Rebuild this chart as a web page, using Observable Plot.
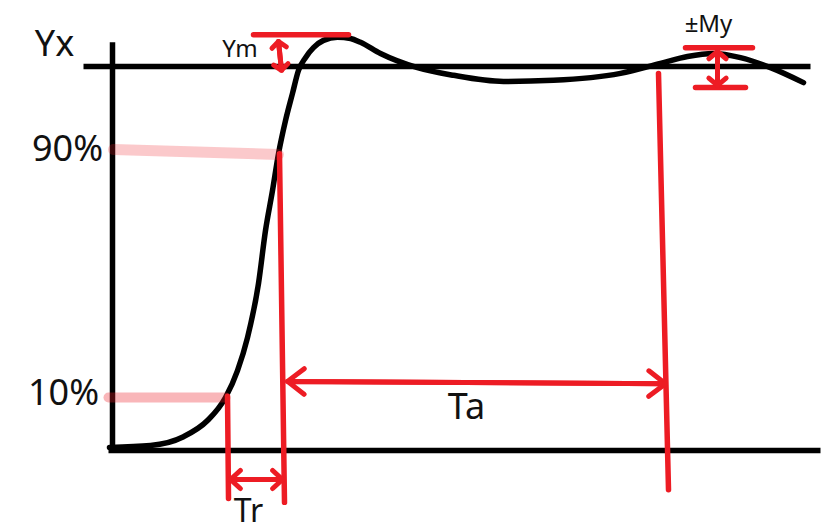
<!DOCTYPE html>
<html>
<head>
<meta charset="utf-8">
<script src="https://cdn.jsdelivr.net/npm/d3@7"></script>
<script src="https://cdn.jsdelivr.net/npm/@observablehq/plot@0.6"></script>
<style>
  html, body { margin: 0; padding: 0; background: #fff; }
  #chart svg { display: block; }
</style>
</head>
<body>
<div id="chart"></div>
<script>
// Step response (time t, normalized output y; y = 1 is the set value Yx)
const curveT = [-0.03, 0.38, 0.71, 0.95, 1.13, 1.25, 1.35, 1.46, 1.53, 1.60, 1.66, 1.73, 1.80, 1.86, 1.93, 2.01, 2.11, 2.25, 2.38, 2.48, 2.68, 3.05, 3.41, 3.91, 4.41, 5.08, 5.48, 5.75, 6.01, 6.28, 6.58, 6.91];
const curveY = [0.008, 0.013, 0.036, 0.078, 0.138, 0.208, 0.294, 0.435, 0.573, 0.677, 0.773, 0.859, 0.930, 0.990, 1.023, 1.049, 1.068, 1.076, 1.073, 1.063, 1.034, 0.997, 0.977, 0.961, 0.964, 0.982, 1.008, 1.026, 1.034, 1.023, 0.997, 0.958];

// Axes and set-value line (black)
const axisX1 = [0, -0.04, -0.29];
const axisY1 = [-0.005, 0, 1];
const axisX2 = [0, 7.08, 6.98];
const axisY2 = [1.063, 0, 1];

// Pale 90% / 10% guides
const guide90 = [{x1: 0.01, y1: 0.784, x2: 1.66, y2: 0.771}];
const guide10 = [{x1: -0.04, y1: 0.138, x2: 1.13, y2: 0.138}];

// Red markers: vertical time marks and overshoot bars
const redX1 = [1.67, 1.15, 5.46, 1.41, 5.73, 5.83];
const redY1 = [0.773, 0.141, 0.982, 1.083, 1.049, 0.945];
const redX2 = [1.72, 1.16, 5.56, 2.36, 6.40, 6.33];
const redY2 = [-0.135, -0.125, -0.102, 1.083, 1.049, 0.945];

// Double-headed arrows: Tr, Ta, Ym, My
const trArrow = [{x1: 1.18, y1: -0.0755, x2: 1.70, y2: -0.0755}];
const taArrow = [{x1: 1.75, y1: 0.180, x2: 5.53, y2: 0.174}];
const ymArrow = [{x1: 1.66, y1: 1.065, x2: 1.69, y2: 0.990}];
const myArrow = [{x1: 6.05, y1: 1.039, x2: 6.05, y2: 0.951}];

// Labels
const bigText = ["Yx", "90%", "10%", "Ta"];
const bigX = [-0.58, -0.45, -0.49, 3.54];
const bigY = [1.057, 0.784, 0.148, 0.112];
const trText = ["Tr"];
const trX = [1.36];
const trY = [-0.16];
const smallText = ["Ym", "±My"];
const smallX = [1.275, 5.96];
const smallY = [1.046, 1.109];

const response = curveT.map((t, i) => ({t, y: curveY[i]}));
const axes = axisX1.map((d, i) => ({x1: d, y1: axisY1[i], x2: axisX2[i], y2: axisY2[i]}));
const reds = redX1.map((d, i) => ({x1: d, y1: redY1[i], x2: redX2[i], y2: redY2[i]}));
const bigLabels = bigText.map((s, i) => ({s, x: bigX[i], y: bigY[i]}));
const trLabels = trText.map((s, i) => ({s, x: trX[i], y: trY[i]}));
const smallLabels = smallText.map((s, i) => ({s, x: smallX[i], y: smallY[i]}));
const reverse = (arr) => arr.map(d => ({x1: d.x2, y1: d.y2, x2: d.x1, y2: d.y1}));

const RED = "#ed1c24";
const FONT = "'Noto Sans', 'Open Sans', sans-serif";

function dbl(data, headLength, headAngle) {
  const o = {x1: "x1", y1: "y1", x2: "x2", y2: "y2", stroke: RED, strokeWidth: 5, headLength, headAngle};
  return [Plot.arrow(data, o), Plot.arrow(reverse(data), o)];
}

const chart = Plot.plot({
  width: 838,
  height: 532,
  margin: 0,
  style: {background: "#fff", overflow: "visible"},
  x: {domain: [0, 1], range: [112, 212], axis: null},
  y: {domain: [0, 1], range: [450, 66], axis: null},
  marks: [
    Plot.link(axes, {x1: "x1", y1: "y1", x2: "x2", y2: "y2", stroke: "#000", strokeWidth: 5.5, strokeLinecap: "butt"}),
    Plot.line(response, {x: "t", y: "y", curve: "monotone-x", stroke: "#000", strokeWidth: 5.5, strokeLinecap: "round"}),
    Plot.link(guide90, {x1: "x1", y1: "y1", x2: "x2", y2: "y2", stroke: RED, strokeOpacity: 0.24, strokeWidth: 11, strokeLinecap: "round"}),
    Plot.link(guide10, {x1: "x1", y1: "y1", x2: "x2", y2: "y2", stroke: RED, strokeOpacity: 0.32, strokeWidth: 10, strokeLinecap: "round"}),
    Plot.link(reds, {x1: "x1", y1: "y1", x2: "x2", y2: "y2", stroke: RED, strokeWidth: 5.5, strokeLinecap: "round"}),
    ...dbl(trArrow, 4, 85),
    ...dbl(taArrow, 6.3, 75),
    ...dbl(ymArrow, 2.8, 100),
    ...dbl(myArrow, 3.8, 100),
    Plot.text(bigLabels, {x: "x", y: "y", text: "s", fontSize: 36, fontFamily: FONT, fill: "#111"}),
    Plot.text(trLabels, {x: "x", y: "y", text: "s", fontSize: 32, fontFamily: FONT, fill: "#111"}),
    Plot.text(smallLabels, {x: "x", y: "y", text: "s", fontSize: 24, fontFamily: FONT, fill: "#111"})
  ]
});
document.getElementById("chart").appendChild(chart);
</script>
</body>
</html>
